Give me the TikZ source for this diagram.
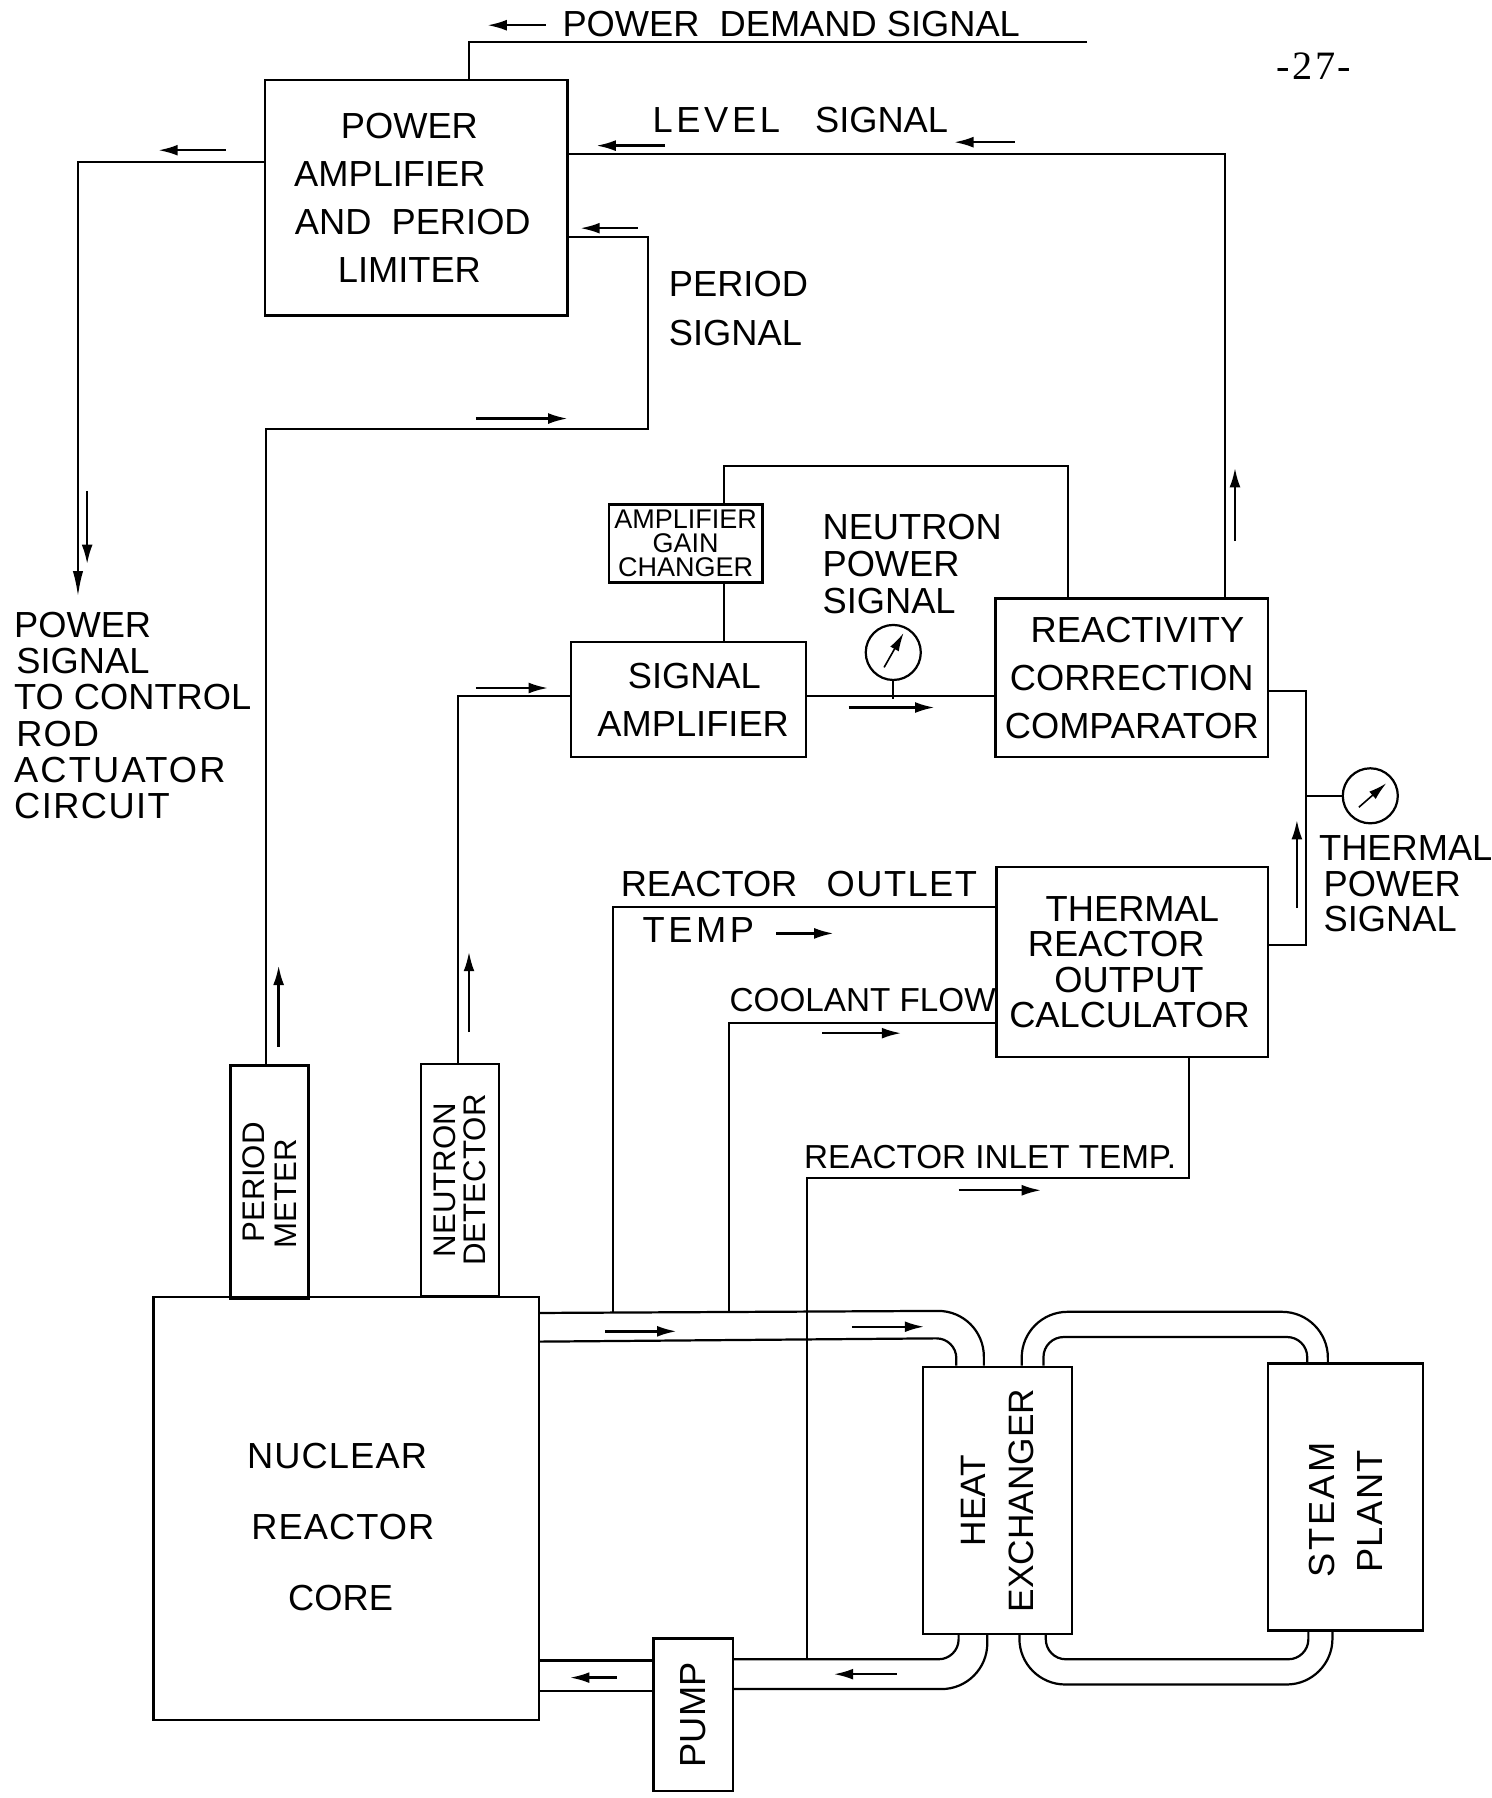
\documentclass[tikz,border=0pt]{standalone}
\usepackage{fontspec}
\setmainfont{Liberation Sans}
\newfontfamily\pagefont{Liberation Serif}
\usetikzlibrary{arrows.meta,calc,positioning}
\newcommand{\spaced}[2]{{\addfontfeature{LetterSpace=#1}#2}}
\newcommand{\nudge}[1]{\leavevmode\hbox to #1{}}
\tikzset{
  blockbox/.style={draw=black, line width=1.2pt, inner sep=0pt, align=center,
    font=\fontsize{18}{23.9}\selectfont},
  tinybox/.style={blockbox, font=\fontsize{13.4}{12}\selectfont},
  gauge/.style={draw=black, line width=1.1pt, circle, inner sep=0pt, minimum size=0.96cm},
  lettering/.style={inner sep=0pt, align=left, font=\fontsize{18}{18}\selectfont},
  wire/.style={draw=black, line width=1pt},
  pipeouter/.style={draw=black, line width=1.1pt, rounded corners=0.8cm},
  pipeinner/.style={draw=black, line width=1.1pt, rounded corners=0.35cm},
  sigflow/.style={-{Latex[length=3.4mm,width=1.9mm]}, line width=1.2pt, draw=black},
  needle/.style={-{Latex[length=3.2mm,width=1.7mm]}, line width=0.8pt, draw=black},
  mainflow/.style={-{Latex[length=4.4mm,width=1.8mm]}, wire}
}
\begin{document}
\begin{tikzpicture}[x=0.02cm,y=-0.02cm]
    \useasboundingbox (0,0) rectangle (1301,1568);
    % blocks
    \node[blockbox, minimum width=5.28cm, minimum height=4.1cm] (pa) at (363,172.5) {POWER\nudge{0.24cm}\\AMPLIFIER\nudge{0.92cm}\\AND\ \ PERIOD\nudge{0.12cm}\\LIMITER\nudge{0.24cm}};
    \node[tinybox, minimum width=2.68cm, minimum height=1.36cm] (gain) at (598,474) {AMPLIFIER\\GAIN\\CHANGER};
    \node[blockbox, minimum width=4.1cm, minimum height=2cm] (sigamp) at (600.5,610) {\nudge{0.2cm}SIGNAL\\\nudge{0.16cm}AMPLIFIER};
    \node[blockbox, minimum width=4.76cm, minimum height=2.76cm] (comp) at (987,591) {\nudge{0.2cm}REACTIVITY\\CORRECTION\\COMPARATOR};
    \node[blockbox, minimum width=4.74cm, minimum height=3.32cm, font=\fontsize{18}{17.6}\selectfont] (calc) at (987.5,839) {THERMAL\\REACTOR\nudge{0.56cm}\\OUTPUT\nudge{0.12cm}\\CALCULATOR\nudge{0.1cm}};
    \node[blockbox, rotate=90, minimum width=4.08cm, minimum height=1.36cm, font=\fontsize{15.5}{15.9}\selectfont] (pmeter) at (235,1031) {PERIOD\\METER\nudge{0.4cm}};
    \node[blockbox, rotate=90, minimum width=4.04cm, minimum height=1.36cm, font=\fontsize{15.5}{14.8}\selectfont] (ndet) at (401,1029) {NEUTRON\\DETECTOR};
    \node[blockbox, minimum width=6.72cm, minimum height=7.38cm, font=\fontsize{18}{35.2}\selectfont] (core) at (302,1315.5) {\rule{0pt}{1.08cm}\spaced{3}{NUCLEAR}\nudge{0.32cm}\\\spaced{3}{REACTOR}\nudge{0.12cm}\\CORE\nudge{0.2cm}};
    \node[blockbox, rotate=90, minimum width=4.66cm, minimum height=2.6cm, font=\fontsize{17.5}{23.9}\selectfont] (hx) at (870,1308.5) {HEAT\\EXCHANGER};
    \node[blockbox, rotate=90, minimum width=4.66cm, minimum height=2.7cm] (steam) at (1173.5,1305.5) {\spaced{7}{STEAM}\nudge{0.44cm}\\\spaced{4}{PLANT}\nudge{0.5cm}};
    \node[blockbox, rotate=90, minimum width=2.66cm, minimum height=1.38cm] (pump) at (604.5,1495.5) {PUMP};
    \node[gauge] (ngauge) at (779,569) {};
    \node[gauge] (tgauge) at (1195,694) {};
    % labels
    \node[lettering] (demandlab) at (690,21) {POWER\ \ DEMAND SIGNAL};
    \node[inner sep=0pt, font=\pagefont\fontsize{20}{20}\selectfont] (pagenum) at (1146,58) {\spaced{6}{-27-}};
    \node[lettering] (levellab) at (698,105) {\spaced{10}{LEVEL}\ \ \hspace{0.26cm}SIGNAL};
    \node[lettering, anchor=west, font=\fontsize{18}{23.9}\selectfont] (periodlab) at (583,269) {PERIOD\\SIGNAL};
    \node[lettering, anchor=west, font=\fontsize{18}{18.2}\selectfont] (neutronlab) at (717,492) {NEUTRON\\POWER\\SIGNAL};
    \node[lettering, anchor=west, font=\fontsize{18}{17.9}\selectfont] (powerlab) at (12,624) {POWER\\\nudge{0.04cm}SIGNAL\\TO CONTROL\\\nudge{0.04cm}\spaced{3}{ROD}\\\spaced{6}{ACTUATOR}\\\spaced{4}{CIRCUIT}};
    \node[lettering, anchor=west, font=\fontsize{18}{17.6}\selectfont] (thermallab) at (1150,771) {THERMAL\\\nudge{0.08cm}POWER\\\nudge{0.08cm}SIGNAL};
    \node[lettering, anchor=west] (outletlab) at (541,771) {REACTOR\ \ \hspace{0.16cm}\spaced{4}{OUTLET}};
    \node[lettering, anchor=west] (templab) at (560,811) {\spaced{10}{TEMP}};
    \node[lettering, anchor=west, font=\fontsize{16.5}{16.5}\selectfont] (coolantlab) at (636,872) {COOLANT FLOW};
    \node[lettering, anchor=west, font=\fontsize{16.5}{16.5}\selectfont] (inletlab) at (701,1009) {REACTOR INLET TEMP.};
    % signal lines
    \coordinate (demandend) at (948,37);
    \coordinate (levelturn) at (1068,134);
    \coordinate (periodtop) at (565,207);
    \coordinate (periodlow) at (565,374);
    \coordinate (rodturn) at (68,141);
    \coordinate (rodend) at (68,520);
    \coordinate (gaintop) at (631,406);
    \coordinate (gainright) at (931,406);
    \coordinate (ndetturn) at (399,607);
    \coordinate (thermturn) at (1139,603);
    \coordinate (thermlow) at (1139,824);
    \coordinate (outletup) at (535,791);
    \coordinate (coolup) at (636,892);
    \coordinate (inletup) at (704,1027);
    \coordinate (inletturn) at (1037,1027);
    \draw[wire] (demandend) -- (409,37) -- (pa.north -| 409,37);
    \draw[wire] (pa.east |- levelturn) -- (levelturn) -- (comp.north -| levelturn);
    \draw[wire] (pa.east |- periodtop) -- (periodtop) -- (periodlow) -- (232,374) -- (pmeter.east -| 232,374);
    \draw[mainflow] (pa.west |- rodturn) -- (rodturn) -- (rodend);
    \draw[wire] (sigamp.north -| gaintop) -- (gain.south -| gaintop);
    \draw[wire] (gain.north -| gaintop) -- (gaintop) -- (gainright) -- (comp.north -| gainright);
    \draw[wire] (ndet.east -| ndetturn) -- (ndetturn) -- (sigamp.west |- ndetturn);
    \draw[wire] (sigamp.east |- 0,607) -- (comp.west |- 0,607);
    \draw[wire] (ngauge.south) -- (ngauge.south |- sigamp.east);
    \draw[wire] (comp.east |- thermturn) -- (thermturn) -- (thermlow) -- (calc.east |- thermlow);
    \draw[wire] (tgauge.west) -- (tgauge.west -| thermturn);
    \draw[wire] (535,1145) -- (outletup) -- (calc.west |- outletup);
    \draw[wire] (636,1144) -- (coolup) -- (calc.west |- coolup);
    \draw[wire] (704,1446) -- (inletup) -- (inletturn) -- (calc.south -| inletturn);
    % loops
    \draw[pipeouter] (core.east |- 0,1145) -- (858,1143) -- (hx.east -| 858,0);
    \draw[pipeinner] (core.east |- 0,1170) -- (834,1167) -- (hx.east -| 834,0);
    \draw[pipeouter] (hx.east -| 891,0) -- (891,1144) -- (1158,1144) -- (steam.east -| 1158,0);
    \draw[pipeinner] (hx.east -| 910,0) -- (910,1166) -- (1140,1166) -- (steam.east -| 1140,0);
    \draw[pipeinner] (hx.west -| 912,0) -- (912,1447) -- (1141,1447) -- (steam.west -| 1141,0);
    \draw[pipeouter] (hx.west -| 889,0) -- (889,1469) -- (1162,1469) -- (steam.west -| 1162,0);
    \draw[pipeinner] (pump.south |- 0,1447) -- (836,1447) -- (hx.west -| 836,0);
    \draw[pipeouter] (pump.south |- 0,1473) -- (861,1473) -- (hx.west -| 861,0);
    \draw[wire, line width=1.1pt] (pump.north |- 0,1448) -- (core.east |- 0,1448);
    \draw[wire, line width=1.1pt] (pump.north |- 0,1475) -- (core.east |- 0,1475);
    % small flow arrows
    \foreach \ax/\ay/\bx/\by [count=\i] in {476/22/425/22, 197/131/138/131, 580/127/520/127, 885/124/832/124,
      556/199/506/199, 415/365/495/365, 76/428/76/492, 415/600/478/600, 1077/472/1077/408, 740/617/815/617,
      1131/792/1131/715, 677/814/727/814, 717/901/786/901, 836/1038/908/1038, 243/913/243/842, 409/900/409/830,
      528/1161/590/1161, 743/1157/806/1157, 782/1460/727/1460, 538/1463/497/1463} {
      \coordinate (from\i) at (\ax,\ay);
      \coordinate (to\i) at (\bx,\by);
      \draw[sigflow] (from\i) -- (to\i);
    }
    \draw[needle] ($(ngauge)+(-8,13)$) -- ($(ngauge)+(9,-17)$);
    \draw[needle] ($(tgauge)+(-10,10)$) -- ($(tgauge)+(14,-11)$);
\end{tikzpicture}
\end{document}
